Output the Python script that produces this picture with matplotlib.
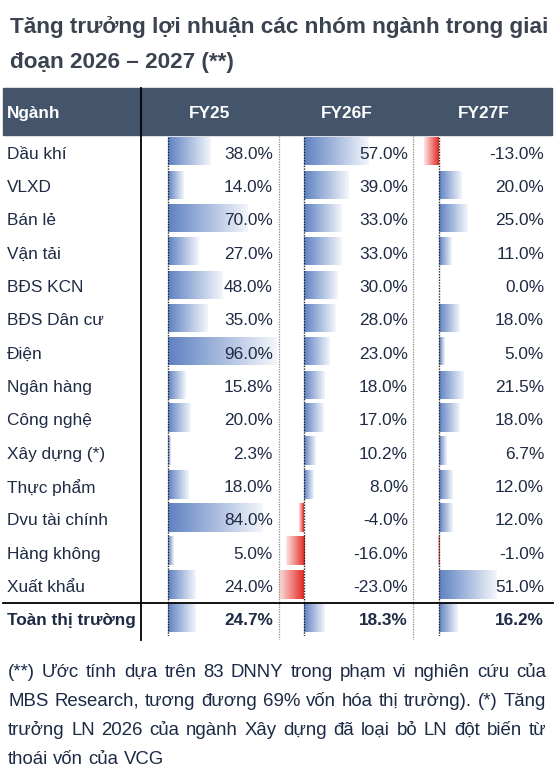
import numpy as np
import matplotlib
matplotlib.use("Agg")
import matplotlib.pyplot as plt
from matplotlib.patches import Rectangle
from matplotlib.colors import LinearSegmentedColormap

plt.rcParams['font.family'] = ['Liberation Sans', 'DejaVu Sans']

# du lieu
nganh = ['Dầu khí', 'VLXD', 'Bán lẻ', 'Vận tải', 'BĐS KCN', 'BĐS Dân cư', 'Điện',
         'Ngân hàng', 'Công nghệ', 'Xây dựng (*)', 'Thực phẩm', 'Dvu tài chính',
         'Hàng không', 'Xuất khẩu']
fy25 = [38.0, 14.0, 70.0, 27.0, 48.0, 35.0, 96.0, 15.8, 20.0, 2.3, 18.0, 84.0, 5.0, 24.0]
fy26 = [57.0, 39.0, 33.0, 33.0, 30.0, 28.0, 23.0, 18.0, 17.0, 10.2, 8.0, -4.0, -16.0, -23.0]
fy27 = [-13.0, 20.0, 25.0, 11.0, 0.0, 18.0, 5.0, 21.5, 18.0, 6.7, 12.0, 12.0, -1.0, 51.0]
ten_tong = 'Toàn thị trường'
tong = [24.7, 18.3, 16.2]
cot = ['FY25', 'FY26F', 'FY27F']

tieu_de = ['Tăng trưởng lợi nhuận các nhóm ngành trong giai',
           'đoạn 2026 – 2027 (**)']
ghi_chu = ['(**) Ước tính dựa trên 83 DNNY trong phạm vi nghiên cứu của',
           'MBS Research, tương đương 69% vốn hóa thị trường). (*) Tăng',
           'trưởng LN 2026 của ngành Xây dựng đã loại bỏ LN đột biến từ',
           'thoái vốn của VCG']

W, H = 555, 768
fig = plt.figure(figsize=(W / 100, H / 100), dpi=100)
fig.patch.set_facecolor('white')

def khung(x0, y0, x1, y1):
    return [x0 / W, 1 - y1 / H, (x1 - x0) / W, (y1 - y0) / H]

bg = fig.add_axes([0, 0, 1, 1])
bg.set_xlim(0, W)
bg.set_ylim(H, 0)
bg.axis('off')
bg.set_zorder(5)  # chu nam tren thanh

mau_chu = '#1f2a44'
fs = 12.4

# tieu de
bg.text(10, 33.5, tieu_de[0], fontsize=16.2, weight='bold', color='#3b4350', va='baseline')
bg.text(10, 68, tieu_de[1], fontsize=16.2, weight='bold', color='#3b4350', va='baseline')

# bang
top, bot = 136, 636
n = len(nganh) + 1
rh = (bot - top) / n
bg.add_patch(Rectangle((3, 88), 549, 47, color='#44546A', zorder=1))
bg.text(7, 112, 'Ngành', fontsize=fs, weight='bold', color='white', va='center_baseline')

xanh = LinearSegmentedColormap.from_list('xanh', ['#5f82c2', '#f3f6fb'])
do = LinearSegmentedColormap.from_list('do', ['#e42a24', '#fde6e4'])
grad = np.linspace(0, 1, 200).reshape(1, -1)

# o cot: (trai, goc 0, phai, vi tri chu, tam tieu de)
cac_o = [(141, 168, 279, 273, 210), (279, 304, 413, 408, 347), (413, 439, 553, 544, 484)]
ti_le = 1.13  # px cho moi %
for j, (du_lieu, (xa, x0, xb, xt, xc)) in enumerate(zip([fy25, fy26, fy27], cac_o)):
    vals = du_lieu + [tong[j]]
    ax = fig.add_axes(khung(xa, top, xb, bot))
    ax.axis('off')
    for i, v in enumerate(vals):
        if v > 0:
            ax.imshow(grad, cmap=xanh, extent=(0, v, i + 0.88, i + 0.04), aspect='auto', zorder=1)
        elif v < 0:
            ax.imshow(grad[:, ::-1], cmap=do, extent=(v, 0, i + 0.88, i + 0.04), aspect='auto', zorder=1)
        bg.text(xt, top + rh * (i + 0.5), f'{v:.1f}%', ha='right', va='center_baseline',
                fontsize=fs, color=mau_chu, weight='bold' if i == n - 1 else 'normal')
    ax.axvline(0, color='#222222', ls=(0, (1, 1)), lw=1.0, zorder=3)
    ax.set_xlim(-(x0 - xa) / ti_le, (xb - x0) / ti_le)
    ax.set_ylim(n, 0)
    bg.text(xc, 112, cot[j], fontsize=fs, weight='bold', color='white', ha='center', va='center_baseline')

for xv in [279, 413]:
    bg.plot([xv, xv], [top, bot + 3], color='#8a8a8a', ls=(0, (1, 1)), lw=0.9)

for i, ten in enumerate(nganh + [ten_tong]):
    bg.text(7, top + rh * (i + 0.5), ten, fontsize=fs, color=mau_chu, va='center_baseline',
            weight='bold' if i == n - 1 else 'normal')

bg.plot([141, 141], [88, 640], color='black', lw=1.3, zorder=4)
bg.plot([3, 553], [top + rh * (n - 1)] * 2, color='black', lw=1.3, zorder=4)

# ghi chu canh deu
r = fig.canvas.get_renderer()
fs2 = 13.4
trai, phai = 8, 546
dong_y = [677, 706, 735, 764]
t1 = bg.text(0, 0, 'a a', fontsize=fs2)
t2 = bg.text(0, 0, 'aa', fontsize=fs2)
khoang = t1.get_window_extent(r).width - t2.get_window_extent(r).width
t1.remove()
t2.remove()
for k, dong in enumerate(ghi_chu):
    tu = dong.split(' ')
    ts = [bg.text(0, dong_y[k], w, fontsize=fs2, color='#1c2a45', va='baseline') for w in tu]
    rong = [t.get_window_extent(r).width for t in ts]
    if k < len(ghi_chu) - 1:
        gap = (phai - trai - sum(rong)) / (len(tu) - 1)
    else:
        gap = khoang
    x = trai
    for t, w in zip(ts, rong):
        t.set_x(x)
        x += w + gap

fig.savefig('out.png', dpi=100)
